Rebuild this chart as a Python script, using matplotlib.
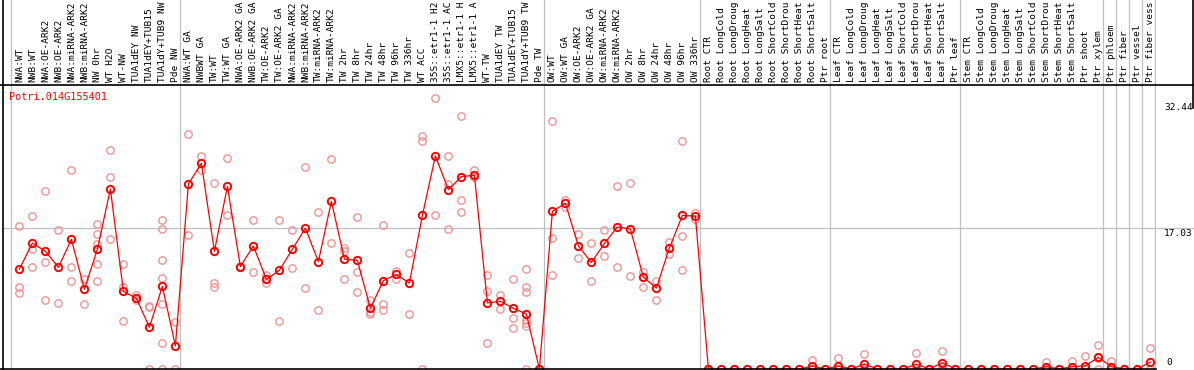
import numpy as np
import matplotlib
matplotlib.use("Agg")
import matplotlib.pyplot as plt
from matplotlib.lines import Line2D

# ---- data (mean + individual replicates) ----
gene_id = "Potri.014G155401"

nw_labels = ["NWA:WT", "NWB:WT", "NWA:OE-ARK2", "NWB:OE-ARK2", "NWA:miRNA-ARK2",
             "NWB:miRNA-ARK2", "NW 0hr", "WT H2O", "WT-NW", "TUA1dEY NW",
             "TUA1dEY+TUB15", "TUA1dY+TUB9 NW", "Pde NW"]
nw_mean = [12.1, 15.25, 14.25, 12.3, 15.7, 9.65, 14.5, 21.8, 9.4, 8.55, 5.05, 10.0, 2.8]
nw_reps = [[17.3, 9.9, 9.15], [18.5, 14.5, 12.4], [21.5, 12.95, 8.35], [16.8, 7.95],
           [24.1, 12.4, 10.7], [10.9, 7.85], [17.55, 16.4, 15.1, 12.7, 10.6],
           [26.5, 23.2, 15.7], [12.7, 9.9, 5.8], [8.95, 8.3], [7.6, 7.45, 0],
           [18.0, 16.9, 13.15, 11.05, 7.85, 3.1, 0], [5.7, 0]]

tw_labels = ["NWA:WT GA", "NWBWT GA", "TW:WT", "TW:WT GA", "NWA:OE-ARK2 GA",
             "NWB:OE-ARK2 GA", "TW:OE-ARK2", "TW:OE-ARK2 GA", "NWA:miRNA-ARK2",
             "NWB:miRNA-ARK2", "TW:miRNA-ARK2", "TW:miRNA-ARK2", "TW 2hr", "TW 8hr",
             "TW 24hr", "TW 48hr", "TW 96hr", "TW 336hr", "WT ACC", "35S::etr1-1 H2",
             "35S::etr1-1 AC", "LMX5::etr1-1 H", "LMX5::etr1-1 A", "WT-TW",
             "TUA1dEY TW", "TUA1dEY+TUB15", "TUA1dY+TUB9 TW", "Pde TW"]
tw_mean = [22.4, 24.9, 14.25, 22.1, 12.4, 14.9, 10.85, 11.95, 14.5, 17.05, 13.0, 20.3,
           13.3, 13.15, 7.35, 10.7, 11.45, 10.4, 18.6, 25.8, 21.7, 23.3, 23.45, 8.0,
           8.2, 7.35, 6.65, 0.0]
tw_reps = [[28.4, 16.2], [25.8, 24.1], [22.5, 10.45, 9.9], [25.6, 18.6], [12.5, 12.3],
           [18.0, 11.75], [11.4, 10.4], [18.0, 5.8], [16.8, 12.2], [24.4, 9.75],
           [19.0, 7.15], [25.4, 15.2], [14.7, 14.25, 10.85], [18.35, 11.8, 9.3],
           [8.35, 6.95, 6.65], [17.4, 7.85, 7.15], [11.85, 10.95], [14.1, 6.65],
           [28.2, 27.6, 0], [32.8, 18.7], [25.75, 22.4, 16.9], [30.6, 20.45, 19.0],
           [24.1, 23.2], [11.4, 9.45, 3.2], [9.0, 7.3], [10.85, 6.2, 4.95],
           [12.05, 9.95, 9.3, 5.95, 5.55, 5.2, 0], [0, 0]]

ow_labels = ["OW:WT", "OW:WT GA", "OW:OE-ARK2", "OW:OE-ARK2 GA", "OW:miRNA-ARK2",
             "OW:miRNA-ARK2", "OW 2hr", "OW 8hr", "OW 24hr", "OW 48hr", "OW 96hr",
             "OW 336hr"]
ow_mean = [19.1, 20.05, 14.9, 12.9, 15.2, 17.2, 16.95, 11.1, 9.8, 14.65, 18.6, 18.5]
ow_reps = [[30.0, 15.8, 11.35], [20.45, 19.6], [16.3, 13.4], [15.2, 10.6],
           [16.8, 13.65], [22.1, 12.3], [22.5, 11.2], [11.8, 9.9], [10.65, 8.3],
           [15.4, 13.9], [27.65, 16.1, 11.95], [18.9, 18.1]]

root_labels = ["Root CTR", "Root LongCold", "Root LongDroug", "Root LongHeat",
               "Root LongSalt", "Root ShortCold", "Root ShortDrou", "Root ShortHeat",
               "Root ShortSalt", "Ptr root"]
root_mean = [0, 0, 0, 0, 0, 0, 0, 0, 0.36, 0]
root_reps = [[0], [0], [0], [0], [0], [0], [0], [0], [1.1, 0, 0], [0]]

leaf_labels = ["Leaf CTR", "Leaf LongCold", "Leaf LongDroug", "Leaf LongHeat",
               "Leaf LongSalt", "Leaf ShortCold", "Leaf ShortDrou", "Leaf ShortHeat",
               "Leaf ShortSalt", "Ptr leaf"]
leaf_mean = [0.36, 0, 0.6, 0, 0, 0, 0.6, 0, 0.77, 0]
leaf_reps = [[1.33, 0, 0], [0], [1.8, 0, 0], [0], [0], [0], [1.9, 0, 0], [0],
             [2.15, 0.2, 0], [0]]

stem_labels = ["Stem CTR", "Stem LongCold", "Stem LongDroug", "Stem LongHeat",
               "Stem LongSalt", "Stem ShortCold", "Stem ShortDrou", "Stem ShortHeat",
               "Stem ShortSalt", "Ptr shoot", "Ptr xylem"]
stem_mean = [0, 0, 0, 0, 0, 0, 0.28, 0, 0.28, 0.4, 1.4]
stem_reps = [[0], [0], [0], [0], [0], [0], [0.8, 0, 0], [0], [1.0, 0, 0],
             [1.57, 0, 0], [2.85, 1.3, 0]]

ptr_labels = ["Ptr phloem", "Ptr fiber", "Ptr vessel", "Ptr fiber vess"]
ptr_mean = [0.28, 0, 0, 0.85]
ptr_reps = [[1.0, 0, 0], [0], [0], [2.6, 0, 0]]

y_ticks = [0, 17.03, 32.44]

# ---- assemble ----
groups = [(nw_labels, nw_mean, nw_reps), (tw_labels, tw_mean, tw_reps),
          (ow_labels, ow_mean, ow_reps), (root_labels, root_mean, root_reps),
          (leaf_labels, leaf_mean, leaf_reps), (stem_labels, stem_mean, stem_reps)]
# each of the last four Ptr columns is its own group
for i in range(len(ptr_labels)):
    groups.append(([ptr_labels[i]], [ptr_mean[i]], [ptr_reps[i]]))

labels, means, reps, starts = [], [], [], []
for g_lab, g_mean, g_reps in groups:
    starts.append(len(labels))
    labels += g_lab
    means += g_mean
    reps += g_reps
starts.append(len(labels))
x = np.arange(len(labels))

# ---- figure in pixel units ----
W, H, DPI = 1194, 370, 100
fig = plt.figure(figsize=(W / DPI, H / DPI), dpi=DPI)
mono = "DejaVu Sans Mono"

x0_px, step_px = 19.4, 13.0          # first column centre / column pitch
ax_left, ax_right, ax_top, ax_bot = 2, 1156, 85, 369
xlim = ((ax_left - x0_px) / step_px, (ax_right - x0_px) / step_px)
ylim = (0, (ax_bot - ax_top) / 8.26)

ax = fig.add_axes([ax_left / W, (H - ax_bot) / H, (ax_right - ax_left) / W,
                   (ax_bot - ax_top) / H])
lab_ax = fig.add_axes([ax_left / W, (H - ax_top) / H, (ax_right - ax_left) / W,
                       ax_top / H])
for a in (ax, lab_ax):
    a.set_xlim(xlim)
    a.set_xticks([])
    a.set_yticks([])
    for s in a.spines.values():
        s.set_visible(False)
ax.set_ylim(ylim)
lab_ax.set_ylim(0, ax_top)

grey = "#c0c0c0"
# group separators through plot and label area
for s in starts:
    ax.axvline(s - 0.68, color=grey, lw=0.9, zorder=1)
    lab_ax.axvline(s - 0.68, color=grey, lw=0.9, zorder=1)
ax.plot([xlim[0], (W - x0_px) / step_px], [y_ticks[1], y_ticks[1]], color=grey,
        lw=0.9, zorder=1, clip_on=False)

# replicates
rx = [x[i] for i in range(len(reps)) for _ in reps[i]]
ry = [v for r in reps for v in r]
ax.plot(rx, ry, "o", ms=5.3, mfc="none", mec="#f09494", mew=1.0, zorder=2)
# mean line
ax.plot(x, means, "-", color="red", lw=0.9, zorder=3)
ax.plot(x, means, "o", ms=5.3, mfc="none", mec="red", mew=1.4, zorder=4)

# column labels
for i, lab in enumerate(labels):
    lab_ax.text(x[i], 2.5, lab, rotation=90, ha="center", va="bottom",
                fontsize=6.8, family=mono, color="black")

# gene id
fig.text(9.5 / W, 1 - 97 / H, gene_id, color="red", fontsize=7.3, family=mono,
         ha="left", va="center")

# y value labels on the right
tr = ax.get_yaxis_transform()
xl = (1164 - ax_left) / (ax_right - ax_left)
ax.text(xl, y_ticks[2] - 0.2, "32.44", transform=tr, ha="left", va="top",
        fontsize=6.8, family=mono, clip_on=False)
ax.text(xl, y_ticks[1] - 0.05, "17.03", transform=tr, ha="left", va="top",
        fontsize=6.8, family=mono, clip_on=False)
ax.text((1166 - ax_left) / (ax_right - ax_left), 0.3, "0", transform=tr,
        ha="left", va="bottom", fontsize=6.8, family=mono, clip_on=False)

# black frame lines
fig.add_artist(Line2D([0, 1], [1 - 85.3 / H] * 2, color="black", lw=1.2))
fig.add_artist(Line2D([2.6 / W] * 2, [0, 1], color="black", lw=1.2))
fig.add_artist(Line2D([0, ax_right / W], [1 - 369.3 / H] * 2, color="black", lw=1.2))
fig.add_artist(Line2D([1193.2 / W] * 2, [1, 1 - 108 / H], color="black", lw=1.2))

fig.savefig("out.png", dpi=DPI)
